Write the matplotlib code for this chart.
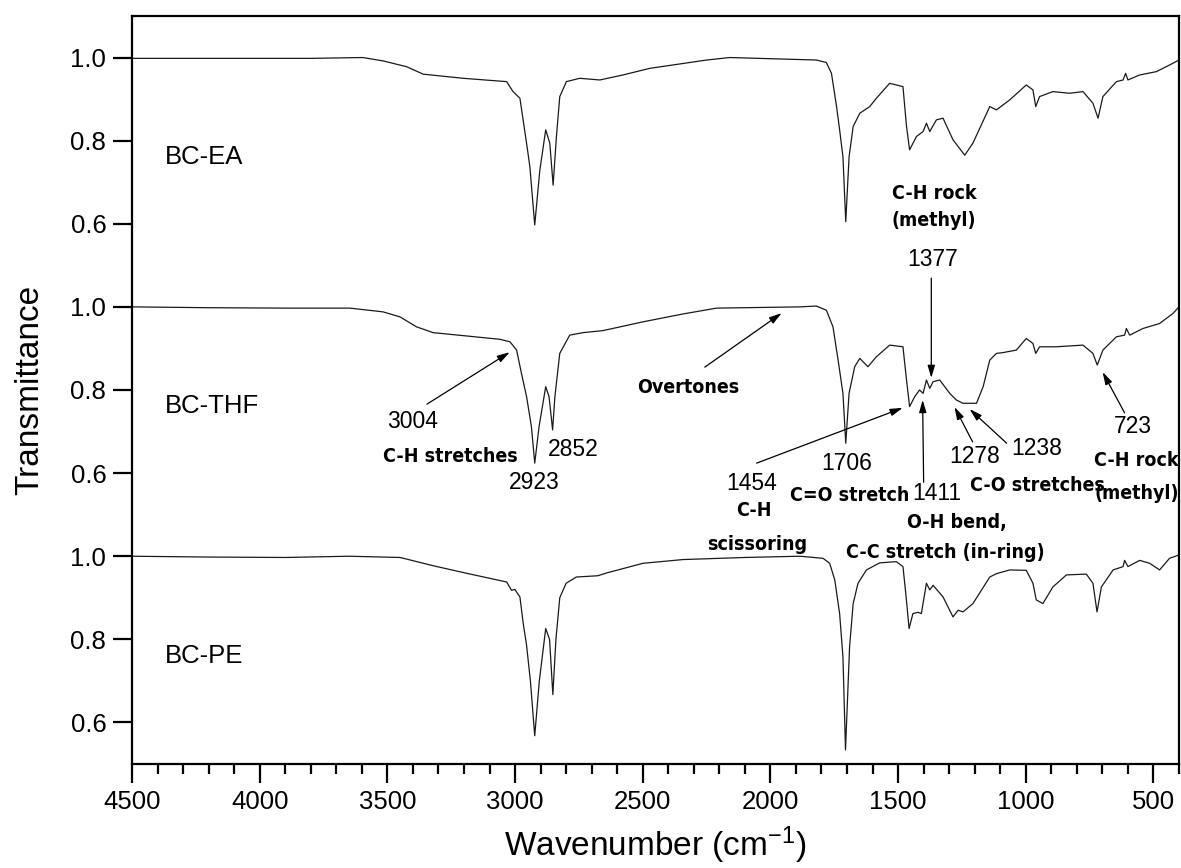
import matplotlib.pyplot as plt
from matplotlib.ticker import MultipleLocator

# FTIR spectra (wavenumber, transmittance)
wn_ea = [4500, 3800, 3596, 3518, 3425, 3360, 3203, 3033, 3008, 2981, 2955, 2942, 2923, 2903,
         2880, 2864, 2851, 2838, 2825, 2799, 2747, 2668, 2578, 2472, 2250, 2159, 1820, 1781,
         1761, 1741, 1729, 1716, 1705, 1692, 1676, 1650, 1611, 1585, 1533, 1481, 1467, 1455,
         1428, 1402, 1389, 1376, 1350, 1324, 1285, 1239, 1207, 1141, 1115, 1063, 998, 972,
         961, 946, 894, 828, 776, 737, 717, 698, 645, 619, 609, 600, 554, 489, 437, 400]
t_ea = [0.998, 0.998, 1.0, 0.992, 0.978, 0.960, 0.950, 0.942, 0.918, 0.902, 0.794, 0.737,
        0.597, 0.729, 0.826, 0.794, 0.693, 0.810, 0.906, 0.942, 0.950, 0.946, 0.958, 0.974,
        0.994, 1.0, 0.994, 0.988, 0.962, 0.882, 0.826, 0.761, 0.605, 0.761, 0.834, 0.866,
        0.882, 0.902, 0.938, 0.930, 0.834, 0.778, 0.810, 0.822, 0.842, 0.822, 0.850, 0.854,
        0.802, 0.765, 0.794, 0.882, 0.874, 0.898, 0.934, 0.922, 0.882, 0.906, 0.918, 0.914,
        0.918, 0.890, 0.854, 0.906, 0.942, 0.946, 0.962, 0.946, 0.958, 0.966, 0.982, 0.994]

wn_thf = [4500, 4200, 3900, 3647, 3517, 3451, 3386, 3321, 3190, 3060, 3020, 2994, 2975, 2955,
          2936, 2923, 2906, 2880, 2867, 2853, 2844, 2825, 2786, 2734, 2655, 2499, 2342, 2211,
          1885, 1820, 1781, 1755, 1735, 1716, 1705, 1692, 1670, 1650, 1618, 1585, 1533, 1481,
          1467, 1455, 1435, 1416, 1402, 1389, 1376, 1363, 1337, 1298, 1272, 1246, 1193, 1167,
          1141, 1115, 1089, 1037, 998, 972, 961, 946, 880, 776, 737, 720, 698, 645, 613, 606,
          593, 541, 476, 424, 400]
t_thf = [1.0, 0.998, 0.997, 0.997, 0.988, 0.976, 0.952, 0.938, 0.930, 0.922, 0.916, 0.896,
         0.840, 0.784, 0.712, 0.624, 0.712, 0.808, 0.784, 0.704, 0.784, 0.888, 0.932, 0.938,
         0.943, 0.964, 0.983, 0.997, 1.0, 1.002, 0.992, 0.952, 0.872, 0.792, 0.672, 0.792,
         0.856, 0.876, 0.856, 0.880, 0.908, 0.904, 0.824, 0.760, 0.784, 0.800, 0.792, 0.824,
         0.804, 0.820, 0.824, 0.792, 0.776, 0.768, 0.768, 0.808, 0.872, 0.888, 0.890, 0.896,
         0.924, 0.912, 0.888, 0.904, 0.904, 0.908, 0.888, 0.860, 0.896, 0.928, 0.932, 0.948,
         0.932, 0.948, 0.960, 0.984, 1.0]

wn_pe = [4500, 4200, 3900, 3650, 3450, 3320, 3190, 3033, 3014, 3001, 2981, 2968, 2955, 2940,
         2923, 2905, 2880, 2865, 2852, 2840, 2825, 2800, 2760, 2676, 2640, 2499, 2342, 2100,
         1885, 1794, 1768, 1748, 1729, 1716, 1706, 1690, 1676, 1657, 1624, 1572, 1507, 1481,
         1470, 1457, 1442, 1422, 1409, 1389, 1376, 1363, 1324, 1285, 1265, 1246, 1207, 1141,
         1115, 1063, 998, 972, 959, 933, 894, 841, 763, 737, 721, 704, 658, 619, 613, 600,
         554, 515, 476, 437, 400]
t_pe = [1.0, 0.998, 0.997, 1.0, 0.997, 0.977, 0.959, 0.938, 0.918, 0.920, 0.902, 0.838,
        0.786, 0.70, 0.568, 0.70, 0.826, 0.80, 0.667, 0.80, 0.90, 0.935, 0.950, 0.953,
        0.960, 0.983, 0.992, 0.997, 1.0, 0.995, 0.983, 0.943, 0.862, 0.758, 0.534, 0.782,
        0.886, 0.935, 0.967, 0.984, 0.987, 0.975, 0.911, 0.826, 0.862, 0.865, 0.862, 0.935,
        0.919, 0.930, 0.902, 0.854, 0.870, 0.866, 0.886, 0.950, 0.958, 0.967, 0.966, 0.935,
        0.895, 0.886, 0.926, 0.955, 0.957, 0.935, 0.866, 0.926, 0.967, 0.975, 0.990, 0.975,
        0.990, 0.983, 0.967, 0.995, 1.003]

names = ["BC-EA", "BC-THF", "BC-PE"]
offsets = [1.2, 0.6, 0.0]
spectra = [(wn_ea, t_ea), (wn_thf, t_thf), (wn_pe, t_pe)]

x_ticks = [4500, 4000, 3500, 3000, 2500, 2000, 1500, 1000, 500]
y_tick_labels = ["0.6", "0.8", "1.0"]

# peak numbers (plain font) and band names (narrow font), stacked y coords
numbers = [
    ("3004", 3400, 1.323), ("2852", 2774, 1.256), ("2923", 2923, 1.178),
    ("1454", 2073, 1.176), ("1377", 1365, 1.715), ("1706", 1702, 1.224),
    ("1411", 1349, 1.150), ("1278", 1200, 1.239), ("1238", 958, 1.260),
    ("723", 582, 1.311),
]
bands = [
    ("C-H stretches", 3255, 1.241), ("Overtones", 2320, 1.407),
    ("C-H", 2065, 1.109), ("scissoring", 2050, 1.029),
    ("C-H rock", 1357, 1.874), ("(methyl)", 1361, 1.809),
    ("C=O stretch", 1690, 1.145), ("O-H bend,", 1271, 1.082),
    ("C-C stretch (in-ring)", 1314, 1.008), ("C-O stretches", 954, 1.171),
    ("C-H rock", 566, 1.231), ("(methyl)", 566, 1.152),
]
# arrows: (tail x, tail y, tip x, tip y)
arrows = [
    (3345, 1.366, 3021, 1.491), (2257, 1.455, 1956, 1.585),
    (2054, 1.224, 1482, 1.357), (1370, 1.669, 1370, 1.429),
    (1400, 1.178, 1404, 1.376), (1208, 1.275, 1279, 1.359),
    (1075, 1.272, 1220, 1.354), (613, 1.345, 699, 1.443),
]

plt.rcParams['font.family'] = ['Liberation Sans', 'DejaVu Sans']
plt.rcParams['mathtext.default'] = 'regular'

fig = plt.figure(figsize=(11.81, 8.68), dpi=100)
ax = fig.add_axes([0.1118, 0.1198, 0.8865, 0.8618])

for (wn, t), off, name in zip(spectra, offsets, names):
    ax.plot(wn, [v + off for v in t], color='#1a1a1a', lw=0.9)
    ax.text(4371, off + 0.761, name, fontsize=18.5, va='center', ha='left')

for s, x, y in numbers:
    ax.text(x, y, s, fontsize=16.5, ha='center', va='center')
for s, x, y in bands:
    ax.text(x, y, s, fontsize=14, ha='center', va='center', family='DejaVu Sans',
            stretch='condensed', weight='bold')
for x0, y0, x1, y1 in arrows:
    ax.annotate('', xy=(x1, y1), xytext=(x0, y0),
                arrowprops=dict(arrowstyle='-|>,head_length=0.75,head_width=0.22',
                                color='black', lw=0.9, shrinkA=0, shrinkB=0))

ax.set_xlim(4500, 400)
ax.set_ylim(0.5, 2.3)
ax.set_xticks(x_ticks)
ax.xaxis.set_minor_locator(MultipleLocator(100))
ax.set_yticks([off + float(v) for off in offsets[::-1] for v in y_tick_labels])
ax.set_yticklabels(y_tick_labels * 3)

ax.tick_params(which='major', direction='out', length=14, width=1.6, labelsize=18.5)
ax.tick_params(axis='x', pad=4.5)
ax.tick_params(axis='y', pad=4.5)
ax.tick_params(which='minor', direction='out', length=7.5, width=1.6)
ax.tick_params(axis='y', which='minor', left=False)
for sp in ax.spines.values():
    sp.set_linewidth(1.6)

ax.set_xlabel("Wavenumber (cm$^{-1}$)", fontsize=24, labelpad=8)
ax.set_ylabel("Transmittance", fontsize=24, labelpad=18)

fig.savefig("out.png", dpi=100)
